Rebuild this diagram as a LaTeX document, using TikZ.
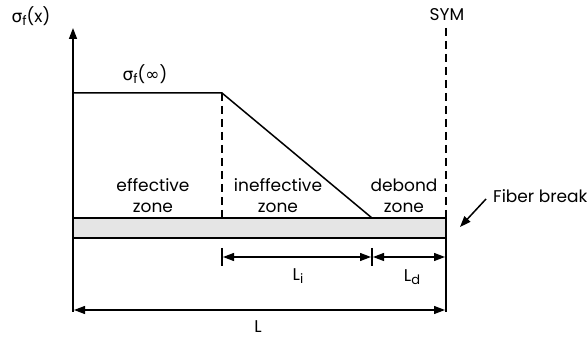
\documentclass[tikz,border=0pt]{standalone}
\usepackage{fontspec}
\setmainfont{Poppins}
\newfontfamily\symfont{DejaVu Sans}
\usetikzlibrary{arrows.meta}
\begin{document}
\begin{tikzpicture}[x=1pt,y=-1pt,
  line/.style={line width=1.5pt},
  tip/.style={-{Triangle[length=11pt,width=8pt]}},
  dtip/.style={{Triangle[length=11pt,width=8pt]}-{Triangle[length=11pt,width=8pt]}},
  dashline/.style={line width=1.8pt,dash pattern=on 8pt off 5pt},
  lbl/.style={font=\fontsize{17}{21}\selectfont, inner sep=0pt, align=center}]
\useasboundingbox (0,0) rectangle (587,339);

% key points
\coordinate (O) at (73,312);
\coordinate (ytop) at (73,28);
\coordinate (P0) at (73,93);
\coordinate (P1) at (222,93);
\coordinate (P1b) at (222,218);
\coordinate (P2) at (372,218);
\coordinate (S0) at (446,28);
\coordinate (S1) at (446,218);
\coordinate (S2) at (446,312);

% fiber
\fill[gray!20] (73,218) rectangle (446,238);
\draw[line width=2pt] (73,218) -- (446,218);
\draw[line width=2pt] (73,238) -- (446,238);

% axes and boundaries
\draw[line, tip] (O) -- (ytop);
\draw[line] (S1) -- (S2);
\draw[dashline] (S0) -- (S1);

% stress profile
\draw[line] (P0) -- (P1) -- (P2);
\draw[dashline] (P1) -- (P1b);

% dimension ticks
\draw[line] (222,248) -- (222,266);
\draw[line] (372,248) -- (372,266);

% dimensions
\draw[line width=1.2pt, dtip] (223,257) -- (371,257);
\draw[line width=1.2pt, dtip] (373,257) -- (445,257);
\draw[line width=1.2pt, dtip] (74,310) -- (445,310);

% labels
\newcommand\subs[1]{\raisebox{-0.4ex}{\fontsize{13}{13}\selectfont #1}}
\node[lbl] (sx) at (31,16) {{\symfont σ}\subs{f}(x)};
\node[lbl] (sinf) at (145,74) {{\symfont σ}\subs{f}({\symfont ∞})};
\node[lbl] (sym) at (447,15) {SYM};
\node[lbl] (eff) at (153,196) {effective\\zone};
\node[lbl] (ineff) at (278,196) {ineffective\\zone};
\node[lbl] (deb) at (404,196) {debond\\zone};
\node[lbl] (Li) at (298,276) {L\subs{i}};
\node[lbl] (Ld) at (412,277) {L\subs{d}};
\node[lbl] (L) at (258,327) {L};
\node[lbl, anchor=west] (fb) at (493,196) {Fiber break};
\coordinate (fbtip) at (460,227);
\draw[line width=1.5pt, tip] (486,199) -- (fbtip);
\end{tikzpicture}
\end{document}
